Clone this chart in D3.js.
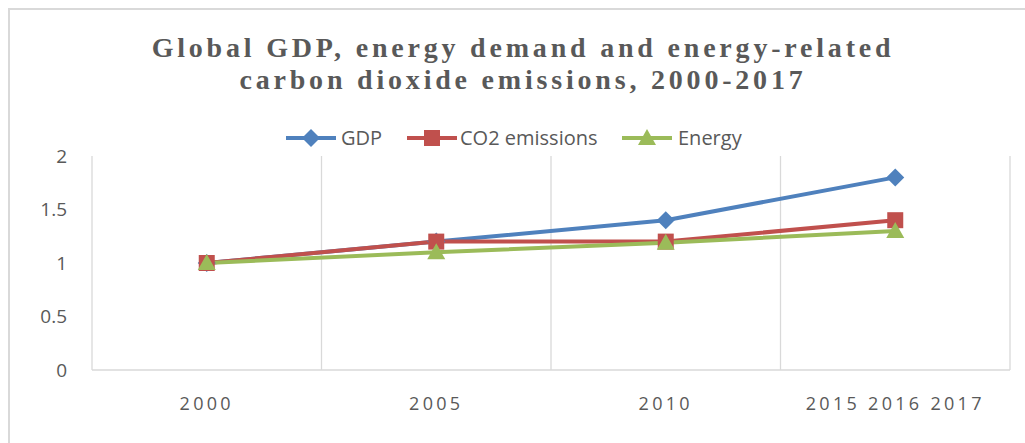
<!DOCTYPE html>
<html><head><meta charset="utf-8">
<script src="https://cdn.jsdelivr.net/npm/d3@7"></script>
<style>
body{margin:0;background:#fff;}
svg{display:block;}
</style></head>
<body>
<svg id="c" width="1025" height="443"></svg>
<script>
const categories = ["2000", "2005", "2010", "2015 2016 2017"];
const gdp = [1, 1.2, 1.4, 1.8];
const co2 = [1, 1.2, 1.2, 1.4];
const energy = [1, 1.1, 1.19, 1.3];
const yTicks = [0, 0.5, 1, 1.5, 2];
const seriesNames = ["GDP", "CO2 emissions", "Energy"];
const titleLines = ["Global GDP, energy demand and energy-related", "carbon dioxide emissions, 2000-2017"];

const series = [
  {name: seriesNames[0], values: gdp, color: "#4f81bd", marker: "diamond"},
  {name: seriesNames[1], values: co2, color: "#c0504d", marker: "square"},
  {name: seriesNames[2], values: energy, color: "#9bbb59", marker: "triangle"}
];

const svg = d3.select("#c");
svg.append("path").attr("d", "M9,443 V9 H1025").attr("fill", "none")
  .attr("stroke", "#d9d9d9").attr("stroke-width", 2);

const x = d3.scaleBand().domain(categories).range([92, 1010]);
const y = d3.scaleLinear().domain([0, 2]).range([370, 156]);

// title
const t = svg.append("text").attr("text-anchor", "middle")
  .attr("font-family", "Liberation Serif").attr("font-weight", "bold")
  .attr("font-size", 28).attr("fill", "#595959").attr("letter-spacing", 3.8);
titleLines.forEach((l, i) => t.append("tspan").attr("x", 523).attr("y", 57 + i * 32).text(l));

const bounds = categories.map(c => x(c)).concat([x.range()[1]]);
svg.append("g").selectAll("line").data(bounds).join("line")
  .attr("x1", d => d).attr("x2", d => d).attr("y1", y(2)).attr("y2", y(0))
  .attr("stroke", "#d9d9d9").attr("stroke-width", 1.3);

svg.append("line").attr("x1", 92).attr("x2", 1010).attr("y1", y(0)).attr("y2", y(0))
  .attr("stroke", "#d9d9d9").attr("stroke-width", 1.5);

const yAxis = d3.axisLeft(y).tickValues(yTicks).tickSize(0).tickPadding(0).tickFormat(d3.format(""));
const gy = svg.append("g").attr("transform", "translate(67,0)").call(yAxis);
gy.select(".domain").remove();
gy.selectAll("text").attr("font-family", "Open Sans, Liberation Sans, sans-serif")
  .attr("font-size", 19).attr("fill", "#595959");

const xAxis = d3.axisBottom(x).tickSize(0).tickPadding(0);
const gx = svg.append("g").attr("transform", "translate(0,397)").call(xAxis);
gx.select(".domain").remove();
gx.selectAll("text").attr("font-family", "Open Sans, Liberation Sans, sans-serif")
  .attr("font-size", 18).attr("fill", "#595959").attr("letter-spacing", 3.3)
  .attr("text-anchor", "middle");

const cx = i => x(categories[i]) + x.bandwidth() / 2;
const line = d3.line().x((d, i) => cx(i)).y(d => y(d));

function marker(g, type, color) {
  if (type === "diamond") g.append("path").attr("d", "M0,-9 L9,0 L0,9 L-9,0 Z").attr("fill", color);
  if (type === "square") g.append("rect").attr("x", -8).attr("y", -8).attr("width", 16).attr("height", 16).attr("fill", color);
  if (type === "triangle") g.append("path").attr("d", "M0,-9 L9,7 L-9,7 Z").attr("fill", color);
}

const plot = svg.append("g");
series.forEach(s => {
  plot.append("path").attr("d", line(s.values)).attr("fill", "none")
    .attr("stroke", s.color).attr("stroke-width", 4).attr("stroke-linejoin", "round");
});
series.forEach(s => {
  s.values.forEach((v, i) => {
    const g = plot.append("g").attr("transform", `translate(${cx(i)},${y(v)})`);
    marker(g, s.marker, s.color);
  });
});

const legendItems = [{x: 286, tx: 341}, {x: 407, tx: 460}, {x: 622, tx: 678}];
series.forEach((s, i) => {
  const lx = legendItems[i].x, ly = 138;
  svg.append("line").attr("x1", lx).attr("x2", lx + 50).attr("y1", ly).attr("y2", ly)
    .attr("stroke", s.color).attr("stroke-width", 4);
  const g = svg.append("g").attr("transform", `translate(${lx + 25},${ly})`);
  marker(g, s.marker, s.color);
  svg.append("text").attr("x", legendItems[i].tx).attr("y", ly).attr("dy", "0.35em")
    .attr("font-family", "Open Sans, Liberation Sans, sans-serif").attr("font-size", 20)
    .attr("fill", "#595959").text(s.name);
});
</script>
</body></html>
